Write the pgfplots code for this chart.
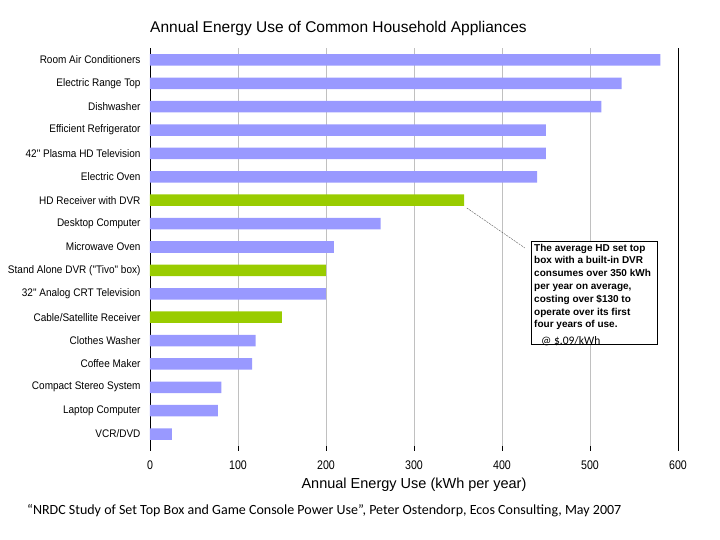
\documentclass[border=0pt]{standalone}
\usepackage{pgfplots}
\pgfplotsset{compat=1.18}
\usepackage{fontspec}
\setmainfont{Liberation Sans}
\newfontfamily\labelfont[FakeStretch=0.91]{Liberation Sans}
\newfontfamily\tickfont[FakeStretch=0.85]{Liberation Sans}
\newfontfamily\notefont{Carlito}
\definecolor{barblue}{HTML}{9999FF}
\definecolor{bargreen}{HTML}{99CC00}
\definecolor{gridgray}{HTML}{C0C0C0}

\begin{document}
\begin{tikzpicture}
\path[use as bounding box] (-150pt,-94.3pt) rectangle (570pt,445.7pt);
\begin{axis}[
    scale only axis,
    width=528pt, height=397.4pt,
    xmin=0, xmax=600,
    ymin=-0.5, ymax=16.5,
    y dir=reverse,
    xbar, bar width=11.5pt, bar shift=0pt,
    clip=false,
    xtick={0,100,...,600},
    ytick={0,...,16},
    yticklabels={{Room Air Conditioners},{Electric Range Top},{Dishwasher},
        {Efficient Refrigerator},{42" Plasma HD Television},{Electric Oven},
        {HD Receiver with DVR},{Desktop Computer},{Microwave Oven},
        {Stand Alone DVR ("Tivo" box)},{32" Analog CRT Television},
        {Cable/Satellite Receiver},{Clothes Washer},{Coffee Maker},
        {Compact Stereo System},{Laptop Computer},{VCR/DVD}},
    /pgf/number format/assume math mode=true,
    xticklabel style={font=\tickfont\fontsize{12.5}{12.5}\selectfont, yshift=-7pt},
    yticklabel style={font=\labelfont\fontsize{11}{11}\selectfont, xshift=-1pt},
    xtick pos=left,
    tick align=outside,
    major tick length=5pt,
    x tick style={black},
    y tick style={draw=none},
    separate axis lines,
    every outer x axis line/.append style={draw=none},
    every outer y axis line/.append style={black},
    xmajorgrids,
    major grid style={draw=gridgray},
    xlabel={Annual Energy Use (kWh per year)},
    every axis x label/.style={at={(axis description cs:0.5,0)}, anchor=center,
        yshift=-39.3pt, font=\fontsize{14.5}{14.5}\selectfont},
]
\addplot[fill=barblue, draw=none] coordinates {
    (580,0) (536,1) (513,2) (450,3) (450,4) (440,5)
    (262,7) (209,8) (200,10) (120,12) (116,13) (81,14) (77,15) (25,16)
};
\addplot[fill=bargreen, draw=none] coordinates {
    (357,6) (200,9) (150,11)
};
\draw[gray!70!black, thin, dash pattern=on 2pt off 1pt]
    (axis cs:360,6.33) -- (axis cs:426,8.04);
\draw[black, fill=white] (axis cs:433,7.74) rectangle (axis cs:576.1,12.15);
\node[anchor=north west, inner sep=0pt, align=left,
      font=\fontsize{10}{12.8}\selectfont\bfseries]
    at (axis cs:436.4,7.86)
    {The average HD set top\\box with a built-in DVR\\consumes over 350 kWh\\per year on average,\\costing over \$130 to\\operate over its first\\four years of use.};
\node[anchor=west, inner sep=0pt, font=\notefont\fontsize{11.5}{11.5}\selectfont]
    at (axis cs:444.3,12.02) {@ \$.09/kWh};
\end{axis}
\node[anchor=west, inner sep=0pt, font=\fontsize{15.5}{15.5}\selectfont]
    at (0pt,416.7pt) {Annual Energy Use of Common Household Appliances};
\node[anchor=west, inner sep=0pt, font=\notefont\fontsize{14}{14}\selectfont]
    at (-123pt,-65.3pt) {“NRDC Study of Set Top Box and Game Console Power Use”, Peter Ostendorp, Ecos Consulting, May 2007};
\end{tikzpicture}
\end{document}
